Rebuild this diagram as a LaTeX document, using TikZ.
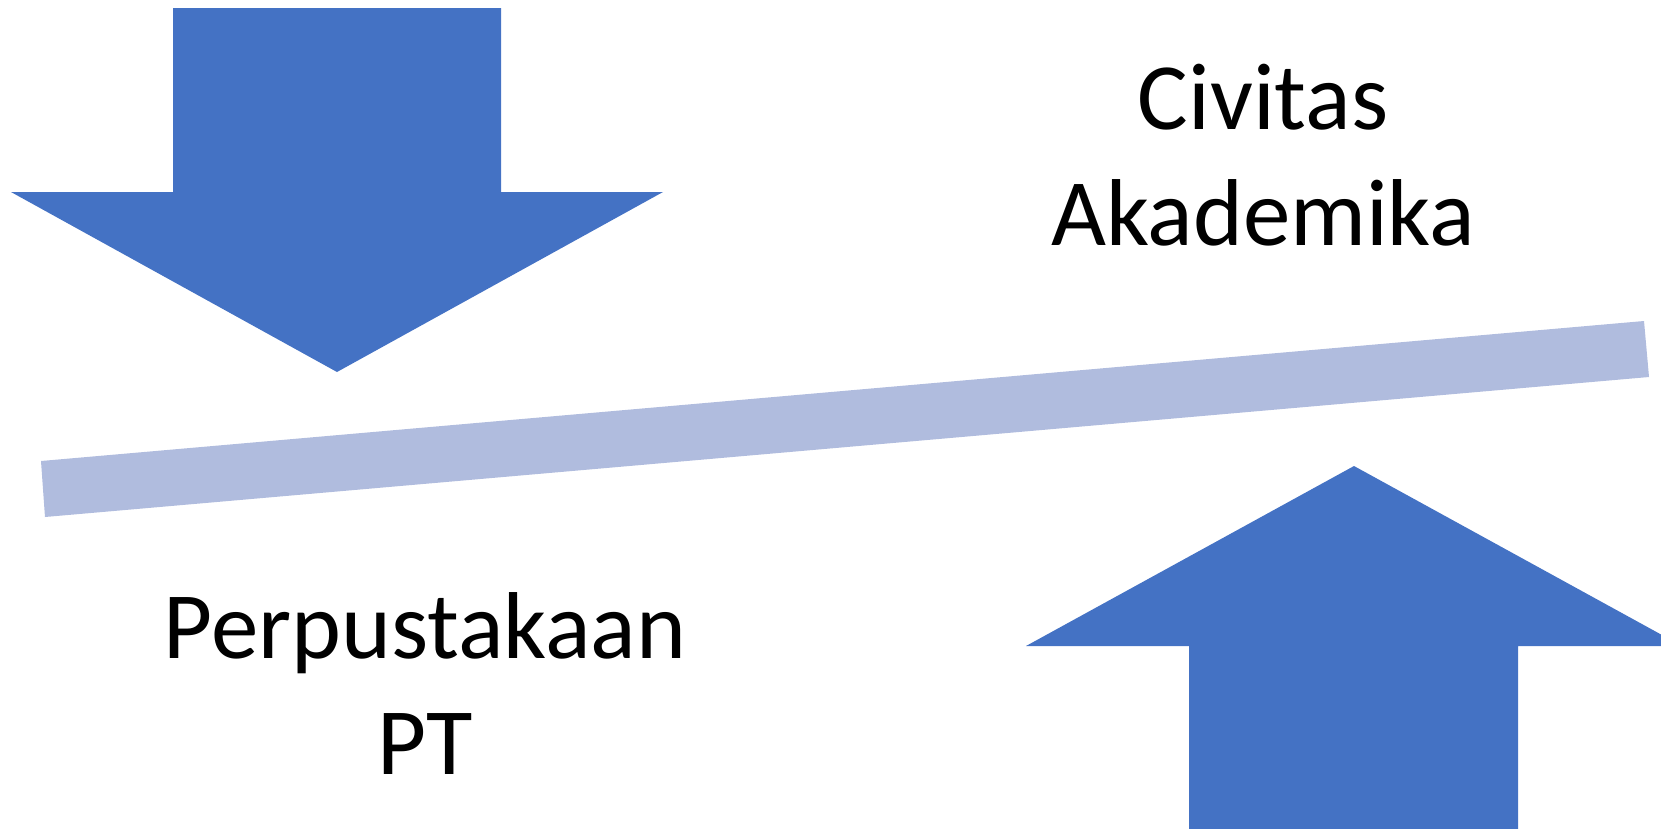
\documentclass[tikz,border=0pt]{standalone}
\usepackage{fontspec}
\setmainfont{Carlito}
\usepackage{tikz}
\usetikzlibrary{positioning}

\definecolor{arrowblue}{HTML}{4472C4}
\definecolor{barblue}{HTML}{B0BCDE}
\tikzset{
  bigarrow/.style={fill=arrowblue, draw=none},
  seesaw/.style={fill=barblue, draw=none},
  bigtext/.style={inner sep=0pt, align=center, anchor=base,
    font=\fontsize{95}{116}\selectfont}
}

\begin{document}
\begin{tikzpicture}[x=1pt,y=-1pt]
\useasboundingbox (0,0) rectangle (1661,828);
\clip (0,0) rectangle (1661,828);

% arrow pointing down
\fill[bigarrow] (173,8) -- (501,8) -- (501,192) -- (663,192) -- (337,372)
  -- (11,192) -- (173,192) -- cycle;

% the tilted bar
\fill[seesaw] (41,461) -- (1644,321) -- (1649,377) -- (45,517) -- cycle;

% arrow pointing up
\fill[bigarrow] (1189,840) -- (1518,840) -- (1518,646) -- (1682,646) -- (1354,466)
  -- (1026,646) -- (1189,646) -- cycle;

\node[bigtext] (civitas) at (1263,245) {Civitas\\Akademika};
\node[bigtext] (perpus) at (425,774) {Perpustakaan\\PT};

\end{tikzpicture}
\end{document}
